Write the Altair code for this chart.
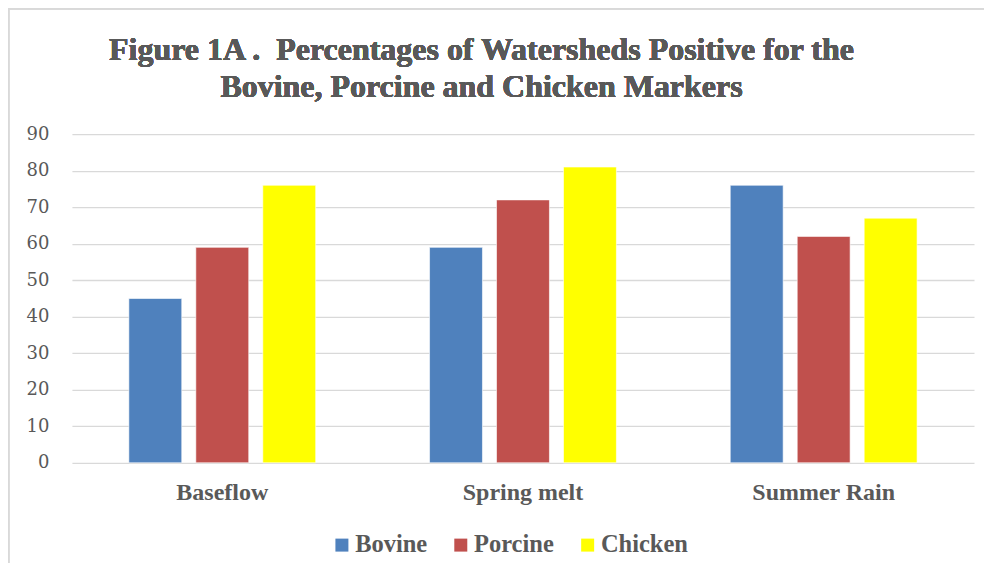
import altair as alt
import pandas as pd

categories = ["Baseflow", "Spring melt", "Summer Rain"]
series = ["Bovine", "Porcine", "Chicken"]
bovine = [45, 59, 76]
porcine = [59, 72, 62]
chicken = [76, 81, 67]
colors = ["#4F81BD", "#C0504D", "#FFFF00"]
y_ticks = [0, 10, 20, 30, 40, 50, 60, 70, 80, 90]
title_lines = ["Figure 1A .\u00a0 Percentages of Watersheds Positive for the",
               "Bovine, Porcine and Chicken Markers"]

rows = []
for s, vals in zip(series, [bovine, porcine, chicken]):
    for c, v in zip(categories, vals):
        rows.append({"category": c, "series": s, "value": v})
df = pd.DataFrame(rows)

TXT = "#595959"
W, H = 903, 329

bars = alt.Chart(df).mark_bar(stroke="white", strokeWidth=0.6).encode(
    x=alt.X("category:N", sort=categories,
            scale=alt.Scale(paddingInner=0, paddingOuter=0),
            axis=alt.Axis(title=None, domain=False, ticks=False, labelAngle=0,
                          labelFont="Liberation Serif", labelFontWeight="bold",
                          labelFontSize=24, labelColor=TXT, labelPadding=18)),
    xOffset=alt.XOffset("series:N", sort=series,
                        scale=alt.Scale(paddingInner=0.21, paddingOuter=0.85)),
    y=alt.Y("value:Q", scale=alt.Scale(domain=[0, 90], nice=False),
            axis=alt.Axis(title=None, domain=False, ticks=False, values=y_ticks,
                          labelFont="DejaVu Serif", labelFontSize=18, labelColor=TXT,
                          labelPadding=23, gridColor="#D9D9D9", gridWidth=1.3)),
    color=alt.Color("series:N", sort=series,
                    scale=alt.Scale(domain=series, range=colors),
                    legend=alt.Legend(title=None, orient="none", direction="horizontal",
                                      legendX=258, legendY=399,
                                      symbolType="square", symbolSize=169,
                                      symbolStrokeWidth=0, symbolOpacity=1,
                                      labelFont="Liberation Serif", labelFontWeight="bold",
                                      labelFontSize=24.5, labelColor=TXT,
                                      labelOffset=1, columnPadding=21)),
)

border = alt.Chart(df).mark_rect(fill=None, stroke="#D9D9D9", strokeWidth=1.5).encode(
    x=alt.value(-63.5), x2=alt.value(W + 200), y=alt.value(-125.5), y2=alt.value(H + 250)
)

title1 = alt.Chart(df).mark_text(
    text=title_lines[0], font="Liberation Serif", fontWeight="bold", fontSize=32,
    color=TXT, align="center", baseline="alphabetic"
).encode(x=alt.value(410), y=alt.value(-74))

title2 = alt.Chart(df).mark_text(
    text=title_lines[1], font="Liberation Serif", fontWeight="bold", fontSize=32,
    color=TXT, align="center", baseline="alphabetic"
).encode(x=alt.value(410), y=alt.value(-37))

chart = alt.layer(border, bars, title1, title2).properties(
    width=W, height=H,
    padding={"left": 64, "top": 126, "right": 10, "bottom": 100},
    autosize=alt.AutoSizeParams(type="none"),
).configure(background="white").configure_view(stroke=None)

chart.save("out.html", embed_options={"renderer": "svg", "actions": False})
